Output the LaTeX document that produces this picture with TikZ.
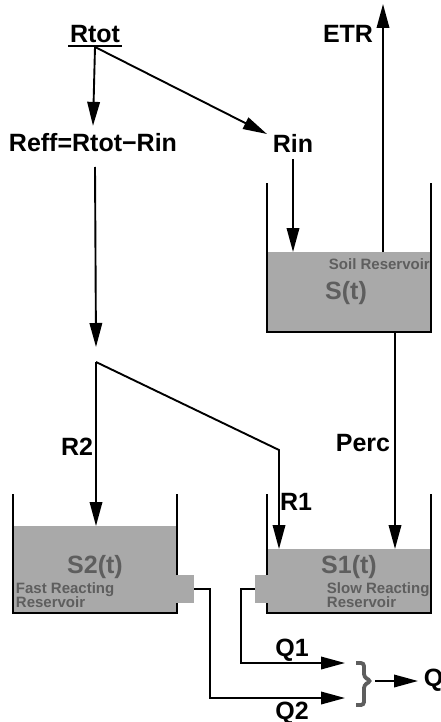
\documentclass[tikz,border=0pt]{standalone}
\usepackage{fontspec}
\setmainfont{Liberation Sans}
\usetikzlibrary{arrows.meta}
\definecolor{water}{HTML}{A9A9A9}
\definecolor{wtext}{HTML}{5E5E5E}
\begin{document}
\begin{tikzpicture}[x=1pt,y=-1pt,line width=1.9pt,
  arr/.style={-{Triangle[length=24pt,width=12.5pt]}},
  lbl/.style={font=\fontsize{25}{25}\selectfont\bfseries,inner sep=0pt},
  big/.style={font=\fontsize{25}{25}\selectfont\bfseries,text=wtext,inner sep=0pt},
  small/.style={font=\fontsize{15}{15}\selectfont\bfseries,text=wtext,inner sep=0pt},
  bracestyle/.style={draw=wtext,line width=3.8pt,rounded corners=3pt}]
\useasboundingbox (0,0) rectangle (441,722);

% water
\fill[water] (267,252) rectangle (431,332);
\fill[water] (13,526) rectangle (177,613);
\fill[water] (177,575) rectangle (194,603);
\fill[water] (267,549) rectangle (431,613);
\fill[water] (255,575) rectangle (267,603);

% walls
\draw (267,183) -- (267,332) -- (431,332) -- (431,183);
\draw (13,494) -- (13,613) -- (177,613) -- (177,603);
\draw (177,575) -- (177,494);
\draw (267,494) -- (267,575);
\draw (267,603) -- (267,613) -- (431,613) -- (431,494);

% labels
\node[lbl,anchor=base] (rtot) at (95,43) {Rtot};
\node[lbl] (reff) at (93,143) {Reff=Rtot−Rin};
\node[lbl] (rin) at (293,143) {Rin};
\node[lbl] (etr) at (348,34) {ETR};
\node[lbl] (perc) at (363,443) {Perc};
\node[lbl] (r2) at (77,447) {R2};
\node[lbl] (r1) at (296,502) {R1};
\node[lbl] (q1) at (292,650) {Q1};
\node[lbl] (q2) at (292,713) {Q2};
\node[lbl,anchor=west] (q) at (423,680) {Q};

% reservoir texts
\node[small,anchor=base west] (soil) at (328,269) {Soil Reservoir};
\node[big] (st) at (346,293) {S(t)};
\node[big] (s2t) at (95,567) {S2(t)};
\node[small,anchor=base west] (fast1) at (15,593) {Fast Reacting};
\node[small,anchor=base west] (fast2) at (15,607) {Reservoir};
\node[big] (s1t) at (349,567) {S1(t)};
\node[small,anchor=base west] (slow1) at (326,593) {Slow Reacting};
\node[small,anchor=base west] (slow2) at (326,607) {Reservoir};

% coordinates
\coordinate (rt) at (95,47);
\coordinate (reffout) at (95,167);
\coordinate (reffend) at (96,347);
\coordinate (j) at (96,362);
\coordinate (r1bend) at (279,450);
\coordinate (s1a) at (279,549);
\coordinate (s2a) at (96,526);
\coordinate (soiltop) at (293,252);
\coordinate (etrbase) at (383,252);
\coordinate (etrtop) at (383,4);
\coordinate (soilbot) at (395,332);
\coordinate (s1b) at (395,549);
\coordinate (s2out) at (194,589);
\coordinate (q2corner) at (210,698);
\coordinate (q2tip) at (345,698);
\coordinate (s1out) at (255,589);
\coordinate (q1corner) at (241,663);
\coordinate (q1tip) at (345,663);
\coordinate (bmid) at (375,681);
\coordinate (qtip) at (418,681);

% underline of Rtot
\draw[line width=1.4pt] ([xshift=-1pt,yshift=-3pt]rtot.base west) -- ([xshift=1pt,yshift=-3pt]rtot.base east);

% connectors
\draw[arr] (rt) -- ([yshift=7pt]reff.north);
\draw[arr] (rt) -- ([xshift=-5pt,yshift=-1pt]rin.north west);
\draw[arr] ([yshift=-6pt]rin.south) -- (soiltop);
\draw[arr] (etrbase) -- (etrtop);
\draw[arr] (soilbot) -- (s1b);
\draw[arr] (reffout) -- (reffend);
\draw[arr] (j) -- (s2a);
\draw[arr] (j) -- (r1bend) -- (s1a);
\draw[arr] (s2out) -| (q2corner) -- (q2tip);
\draw[arr] (s1out) -| (q1corner) -- (q1tip);
\draw[bracestyle] (356,663) -- (364,663) -- (364,677) -- (371,681) -- (364,685) -- (364,705) -- (356,705);
\draw[arr] (bmid) -- (qtip);
\end{tikzpicture}
\end{document}
